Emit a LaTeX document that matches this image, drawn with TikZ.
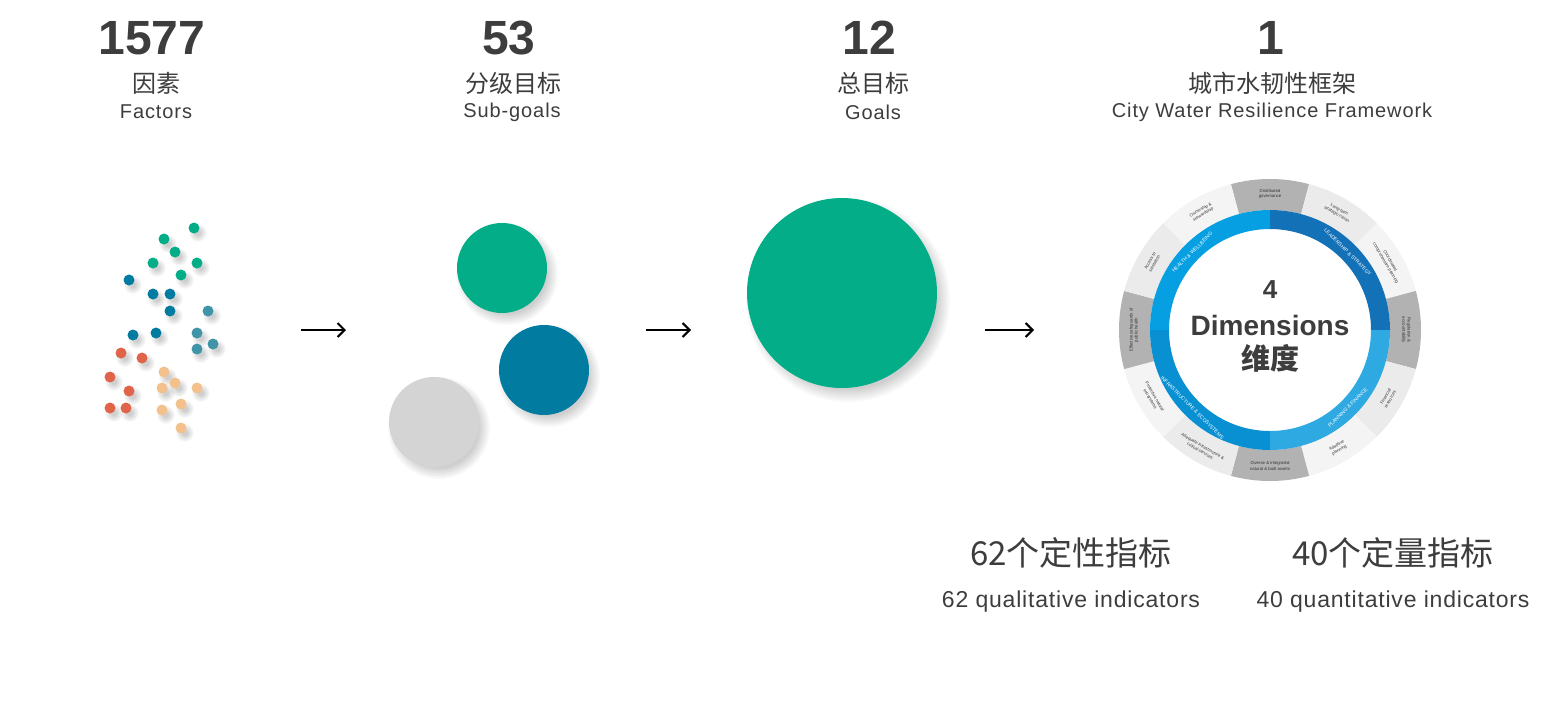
\documentclass[tikz,border=0pt]{standalone}
\usepackage{fontspec}
\setmainfont{Liberation Sans}
\newfontfamily\spaced[LetterSpace=4.5]{Liberation Sans}
\newfontfamily\spacedb[LetterSpace=3.5]{Liberation Sans}
\newfontfamily\cjk{Noto Sans CJK SC}
\usetikzlibrary{arrows.meta}
\definecolor{cgreen}{HTML}{02AD87}
\definecolor{cblue}{HTML}{017B9F}
\definecolor{cteal}{HTML}{3F94A7}
\definecolor{cred}{HTML}{DF644A}
\definecolor{corange}{HTML}{F4C08C}
\definecolor{cgrey}{HTML}{D4D4D4}
\definecolor{txt}{HTML}{3D3D3D}
\definecolor{segdark}{HTML}{B2B2B2}
\definecolor{segmid}{HTML}{EBEBEB}
\definecolor{seglight}{HTML}{F4F4F4}
\definecolor{qtl}{HTML}{069FE2}
\definecolor{qtr}{HTML}{1371B7}
\definecolor{qbr}{HTML}{2FA9E1}
\definecolor{qbl}{HTML}{0890D3}
\newcommand{\softshadow}[4]{%
  \foreach \k in {1,...,8} {
    \fill[black, opacity=0.025] (#1,#2) circle[radius={(#3-#4/2+#4*\k/8)*1pt}];
  }}
\begin{document}
\begin{tikzpicture}[x=1pt,y=-1pt,
  dot/.style={circle, minimum size=11pt, inner sep=0pt},
  bigc/.style={circle, inner sep=0pt, minimum size=90pt},
  numtxt/.style={text=txt, font=\bfseries\fontsize{48}{48}\selectfont, inner sep=0pt},
  cntxt/.style={text=txt, font=\cjk\fontsize{24}{24}\selectfont, inner sep=0pt},
  entxt/.style={text=txt, font=\spaced\fontsize{20}{20}\selectfont, inner sep=0pt},
  bigcn/.style={text=txt, font=\cjk\fontsize{33}{33}\selectfont, inner sep=0pt},
  bigen/.style={text=txt, font=\spacedb\fontsize{23}{23}\selectfont, inner sep=0pt},
  arr/.style={line width=2.2pt, -{Straight Barb[length=7pt,width=14pt,line width=2pt]}},
  seglab/.style={text=black!80, font=\fontsize{4.3}{5.2}\selectfont, align=center, inner sep=0pt},
  dimlab/.style={text=white, font=\fontsize{5}{5}\selectfont, inner sep=0pt},
  centre/.style={text=txt, inner sep=0pt}
]
\fill[white] (0,0) rectangle (1550,721);
\useasboundingbox (0,0) rectangle (1550,721);

% headers
\node[numtxt] (n1) at (152,38) {1577};
\node[cntxt] (c1) at (156,83) {因素};
\node[entxt] (e1) at (156,112) {Factors};
\node[numtxt] (n2) at (509,38) {53};
\node[cntxt] (c2) at (513,83) {分级目标};
\node[entxt] (e2) at (512,112) {Sub-goals};
\node[numtxt] (n3) at (869,38) {12};
\node[cntxt] (c3) at (873,83) {总目标};
\node[entxt] (e3) at (873,112) {Goals};
\node[numtxt] (n4) at (1271,38) {1};
\node[cntxt] (c4) at (1272,83) {城市水韧性框架};
\node[entxt] (e4) at (1272,112) {City Water Resilience Framework};

% dots (factors)
\foreach \px/\py in {194/228,164/239,175/252,153/263,197/263,181/275,
    129/280,153/294,170/294,170/311,133/335,156/333,
    208/311,197/333,213/344,197/349,
    121/353,142/358,110/377,129/391,110/408,126/408,
    164/372,175/383,162/388,197/388,181/404,162/410,181/428}
  \softshadow{\px+4}{\py+5}{5.5}{7};
\foreach \px/\py [count=\i] in {194/228,164/239,175/252,153/263,197/263,181/275}
  \node[dot, fill=cgreen] (g\i) at (\px,\py) {};
\foreach \px/\py [count=\i] in {129/280,153/294,170/294,170/311,133/335,156/333}
  \node[dot, fill=cblue] (b\i) at (\px,\py) {};
\foreach \px/\py [count=\i] in {208/311,197/333,213/344,197/349}
  \node[dot, fill=cteal] (t\i) at (\px,\py) {};
\foreach \px/\py [count=\i] in {121/353,142/358,110/377,129/391,110/408,126/408}
  \node[dot, fill=cred] (r\i) at (\px,\py) {};
\foreach \px/\py [count=\i] in {164/372,175/383,162/388,197/388,181/404,162/410,181/428}
  \node[dot, fill=corange] (o\i) at (\px,\py) {};

% sub-goals
\softshadow{507}{274}{45}{12}
\softshadow{549}{376}{45}{12}
\softshadow{439}{428}{45}{12}
\node[bigc, fill=cgreen] (sg1) at (502,268) {};
\node[bigc, fill=cblue] (sg2) at (544,370) {};
\node[bigc, fill=cgrey] (sg3) at (434,422) {};

% goals
\softshadow{848}{300}{95}{14}
\node[bigc, fill=cgreen, minimum size=190pt] (goal) at (842,293) {};

% arrows
\coordinate (a1s) at (301,330); \coordinate (a1e) at (346,330);
\coordinate (a2s) at (646,330); \coordinate (a2e) at (691,330);
\coordinate (a3s) at (985,330); \coordinate (a3e) at (1034,330);
\draw[arr] (a1s) -- (a1e);
\draw[arr] (a2s) -- (a2e);
\draw[arr] (a3s) -- (a3e);

% framework ring
\begin{scope}[shift={(1270,330)}, x=1pt, y=1pt]
  \foreach \a/\c in {90/segdark,60/segmid,30/seglight,0/segdark,-30/segmid,-60/seglight,
                     -90/segdark,-120/segmid,-150/seglight,180/segdark,150/segmid,120/seglight}
    \fill[\c] (\a-15:120pt) arc[start angle=\a-15, end angle=\a+15, radius=120pt]
      -- (\a+15:151pt) arc[start angle=\a+15, end angle=\a-15, radius=151pt] -- cycle;
  \fill[qtr] (0:101pt) arc[start angle=0, end angle=90, radius=101pt]
      -- (90:120pt) arc[start angle=90, end angle=0, radius=120pt] -- cycle;
  \fill[qtl] (90:101pt) arc[start angle=90, end angle=180, radius=101pt]
      -- (180:120pt) arc[start angle=180, end angle=90, radius=120pt] -- cycle;
  \fill[qbl] (180:101pt) arc[start angle=180, end angle=270, radius=101pt]
      -- (270:120pt) arc[start angle=270, end angle=180, radius=120pt] -- cycle;
  \fill[qbr] (270:101pt) arc[start angle=270, end angle=360, radius=101pt]
      -- (360:120pt) arc[start angle=360, end angle=270, radius=120pt] -- cycle;

  \node[dimlab, rotate=-45] (d1) at (45:110pt) {LEADERSHIP \& STRATEGY};
  \node[dimlab, rotate=45] (d2) at (-45:110pt) {PLANNING \& FINANCE};
  \node[dimlab, rotate=-45] (d3) at (-135:110pt) {INFRASTRUCTURE \& ECOSYSTEMS};
  \node[dimlab, rotate=45] (d4) at (135:110pt) {HEALTH \& WELLBEING};

  \node[seglab] (s90) at (90:136pt) {Distributed\\governance};
  \node[seglab, rotate=-30] (s60) at (60:136pt) {Long-term\\strategic vision};
  \node[seglab, rotate=-60] (s30) at (30:136pt) {Coordinated\\comprehensive planning};
  \node[seglab, rotate=-90] (s0) at (0:136pt) {Regulation \&\\accountability};
  \node[seglab, rotate=60] (sm30) at (-30:136pt) {Financial\\resources};
  \node[seglab, rotate=30] (sm60) at (-60:136pt) {Adaptive\\planning};
  \node[seglab] (sm90) at (-90:136pt) {Diverse \& integrated\\natural \& built assets};
  \node[seglab, rotate=-30] (sm120) at (-120:137pt) {Adequate infrastructure \&\\critical services};
  \node[seglab, rotate=-60] (sm150) at (-150:136pt) {Protective natural\\ecosystems};
  \node[seglab, rotate=90] (s180) at (180:136pt) {Effective safeguards of\\public health};
  \node[seglab, rotate=60] (s150) at (150:136pt) {Access to\\sanitation};
  \node[seglab, rotate=30] (s120) at (120:136pt) {Ownership \&\\stewardship};
\end{scope}

\node[centre, font=\bfseries\fontsize{26}{26}\selectfont] (dnum) at (1270,290) {4};
\node[centre, font=\bfseries\fontsize{28}{28}\selectfont] (dim) at (1270,325) {Dimensions};
\node[centre, font=\cjk\bfseries\fontsize{29}{29}\selectfont] (dcn) at (1270,358) {维度};

% indicators
\node[bigcn] (q1) at (1071,553) {62个定性指标};
\node[bigen] (q2) at (1071,602) {62 qualitative indicators};
\node[bigcn] (q3) at (1393,553) {40个定量指标};
\node[bigen] (q4) at (1393,602) {40 quantitative indicators};
\end{tikzpicture}
\end{document}
